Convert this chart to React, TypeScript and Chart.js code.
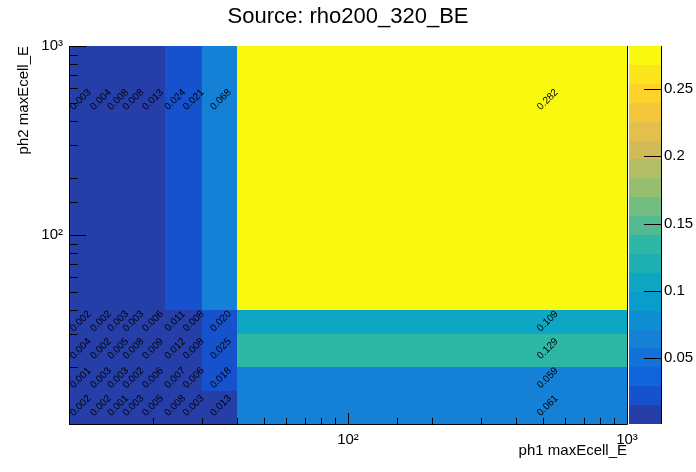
import React, { useEffect, useRef } from 'react';
import { Chart, registerables } from 'chart.js';
Chart.register(...registerables);

const FONT = "'Liberation Sans', Arial, Helvetica, sans-serif";

// bin edges
const xEdges = [10, 12, 14, 16, 18, 22, 26, 30, 40, 1000];
const yEdges = [10, 15, 20, 30, 40, 1000];

// bin contents, one array per y row (bottom to top)
const rowY10to15 = [0.002, 0.002, 0.001, 0.003, 0.005, 0.008, 0.003, 0.013, 0.061];
const rowY15to20 = [0.001, 0.003, 0.003, 0.002, 0.006, 0.007, 0.006, 0.018, 0.059];
const rowY20to30 = [0.004, 0.002, 0.005, 0.008, 0.009, 0.012, 0.008, 0.025, 0.129];
const rowY30to40 = [0.002, 0.002, 0.003, 0.003, 0.006, 0.011, 0.008, 0.020, 0.109];
const rowY40to1000 = [0.003, 0.004, 0.008, 0.008, 0.013, 0.024, 0.021, 0.068, 0.282];

const zMin = 0.001;
const zMax = 0.282;
const nContours = 20;
const zTickLabels = ['0.05', '0.1', '0.15', '0.2', '0.25'];

const titleText = 'Source: rho200_320_BE';
const xTitle = 'ph1 maxEcell_E';
const yTitle = 'ph2 maxEcell_E';

// ROOT kBird palette
const birdStops = [0.0, 0.125, 0.25, 0.375, 0.5, 0.625, 0.75, 0.875, 1.0];
const birdR = [0.2082, 0.0592, 0.078, 0.0232, 0.1802, 0.5301, 0.8186, 0.9956, 0.9764];
const birdG = [0.1664, 0.3599, 0.5041, 0.6419, 0.7178, 0.7492, 0.7328, 0.7862, 0.9832];
const birdB = [0.5293, 0.8684, 0.8385, 0.7914, 0.6425, 0.4662, 0.3499, 0.1968, 0.0539];
const NCOL = 255;

function buildPalette(): string[] {
  const out: string[] = [];
  for (let g = 1; g < birdStops.length; g++) {
    const n = Math.floor(NCOL * birdStops[g]) - Math.floor(NCOL * birdStops[g - 1]);
    for (let c = 0; c < n; c++) {
      const t = c / n;
      const r = birdR[g - 1] + t * (birdR[g] - birdR[g - 1]);
      const gg = birdG[g - 1] + t * (birdG[g] - birdG[g - 1]);
      const b = birdB[g - 1] + t * (birdB[g] - birdB[g - 1]);
      out.push(`rgb(${Math.round(r * 255)},${Math.round(gg * 255)},${Math.round(b * 255)})`);
    }
  }
  return out;
}
const palette = buildPalette();

function levelOf(v: number) {
  let c = Math.floor(0.01 + ((v - zMin) * nContours) / (zMax - zMin));
  if (c < 0) c = 0;
  if (c > nContours - 1) c = nContours - 1;
  return c;
}
function levelColor(c: number) {
  const idx = Math.floor(((c + 0.99) * palette.length) / nContours);
  return palette[Math.min(idx, palette.length - 1)];
}

type Cell = { x: number; y: number; x0: number; x1: number; y0: number; y1: number; v: number };
function buildCells(): Cell[] {
  const rows = [rowY10to15, rowY15to20, rowY20to30, rowY30to40, rowY40to1000];
  const cells: Cell[] = [];
  rows.forEach((row, j) =>
    row.forEach((v, i) =>
      cells.push({
        x0: xEdges[i],
        x1: xEdges[i + 1],
        y0: yEdges[j],
        y1: yEdges[j + 1],
        x: (xEdges[i] + xEdges[i + 1]) / 2,
        y: (yEdges[j] + yEdges[j + 1]) / 2,
        v,
      })
    )
  );
  return cells;
}

const isDecade = (v: number) => Math.abs(Math.log10(v) - Math.round(Math.log10(v))) < 1e-6;
const supers: Record<string, string> = { '1': '¹', '2': '²', '3': '³' };
const decadeLabel = (v: number) => '10' + (supers[String(Math.round(Math.log10(v)))] || '');

const heatPlugin = {
  id: 'heat',
  beforeDatasetsDraw(chart: any) {
    const ctx = chart.ctx;
    const xs = chart.scales.x;
    const ys = chart.scales.y;
    const cells: Cell[] = chart.data.datasets[0].data;
    ctx.save();
    for (const c of cells) {
      const px0 = xs.getPixelForValue(c.x0);
      const px1 = xs.getPixelForValue(c.x1);
      const py0 = ys.getPixelForValue(c.y0);
      const py1 = ys.getPixelForValue(c.y1);
      ctx.fillStyle = levelColor(levelOf(c.v));
      const l = Math.round(px0), r = Math.round(px1), t = Math.round(py1), b = Math.round(py0);
      ctx.fillRect(l, t, r - l, b - t);
    }
    ctx.restore();
  },
  afterDatasetsDraw(chart: any) {
    const ctx = chart.ctx;
    const xs = chart.scales.x;
    const ys = chart.scales.y;
    const zs = chart.scales.z;
    const area = chart.chartArea;
    const cells: Cell[] = chart.data.datasets[0].data;
    ctx.save();
    // cell texts
    ctx.fillStyle = '#000';
    ctx.font = `10px ${FONT}`;
    ctx.textAlign = 'center';
    ctx.textBaseline = 'middle';
    for (const c of cells) {
      const px = xs.getPixelForValue(c.x);
      const py = ys.getPixelForValue(c.y);
      ctx.save();
      ctx.translate(px, py);
      ctx.rotate(-Math.PI / 4);
      ctx.fillText(c.v.toFixed(3), 0, 0);
      ctx.restore();
    }
    // frame lines (left, bottom, right)
    ctx.strokeStyle = '#000';
    ctx.lineWidth = 1;
    ctx.beginPath();
    ctx.moveTo(Math.round(area.left) + 0.5, area.top);
    ctx.lineTo(Math.round(area.left) + 0.5, Math.round(area.bottom) + 0.5);
    ctx.lineTo(Math.round(area.right) + 0.5, Math.round(area.bottom) + 0.5);
    ctx.lineTo(Math.round(area.right) + 0.5, area.top);
    ctx.stroke();
    // x ticks inward
    ctx.beginPath();
    for (const t of xs.ticks) {
      const px = Math.round(xs.getPixelForValue(t.value)) + 0.5;
      const len = isDecade(t.value) ? 11 : 6;
      ctx.moveTo(px, area.bottom);
      ctx.lineTo(px, area.bottom - len);
    }
    // y ticks inward
    for (const t of ys.ticks) {
      const py = Math.round(ys.getPixelForValue(t.value)) + 0.5;
      const len = isDecade(t.value) ? 17 : 8.5;
      ctx.moveTo(area.left, py);
      ctx.lineTo(area.left + len, py);
    }
    ctx.stroke();
    // colour bar
    const cbL = Math.round(zs.left) + 2;
    const cbR = Math.round(zs.left) + 34;
    const dz = (zMax - zMin) / nContours;
    for (let i = 0; i < nContours; i++) {
      const yb = zs.getPixelForValue(zMin + i * dz);
      const yt = zs.getPixelForValue(zMin + (i + 1) * dz);
      ctx.fillStyle = levelColor(i);
      const t = Math.round(yt), b = Math.round(yb);
      ctx.fillRect(cbL, t, cbR - cbL, b - t);
    }
    ctx.beginPath();
    ctx.moveTo(cbR + 0.5, zs.top);
    ctx.lineTo(cbR + 0.5, zs.bottom);
    for (const t of zs.ticks) {
      const py = Math.round(zs.getPixelForValue(t.value)) + 0.5;
      ctx.moveTo(cbR, py);
      ctx.lineTo(cbR - 17, py);
    }
    ctx.stroke();
    ctx.restore();
  },
};

export default function App() {
  const ref = useRef<HTMLCanvasElement>(null);
  useEffect(() => {
    const canvas = ref.current!;
    const chart = new Chart(canvas, {
      type: 'scatter',
      data: {
        datasets: [
          {
            data: buildCells() as any,
            pointRadius: 0,
            pointHoverRadius: 0,
            showLine: false,
          },
        ],
      },
      options: {
        animation: false,
        responsive: false,
        devicePixelRatio: 1,
        events: [],
        layout: { padding: { left: 0, right: 0, top: 0, bottom: 0 } },
        plugins: {
          legend: { display: false },
          tooltip: { enabled: false },
          title: {
            display: true,
            text: titleText,
            color: '#000',
            font: { family: FONT, size: 22, weight: 'normal' as any },
            padding: { top: 4, bottom: 15.6 },
          },
        },
        scales: {
          x: {
            type: 'logarithmic',
            min: 10,
            max: 1000,
            grid: { display: false, drawTicks: false },
            border: { display: false },
            ticks: {
              autoSkip: false,
              maxRotation: 0,
              minRotation: 0,
              padding: 7,
              color: '#000',
              font: { family: FONT, size: 15 },
              callback: (v: any) => (Number(v) > 10 && isDecade(Number(v)) ? decadeLabel(Number(v)) : ''),
            },
            title: {
              display: true,
              text: xTitle,
              align: 'end',
              color: '#000',
              font: { family: FONT, size: 15 },
              padding: { top: 0, bottom: 12 },
            },
            afterFit: (s: any) => {
              s.height = 48;
            },
          },
          y: {
            type: 'logarithmic',
            min: 10,
            max: 1000,
            grid: { display: false, drawTicks: false },
            border: { display: false },
            ticks: {
              autoSkip: false,
              padding: 6,
              color: '#000',
              font: { family: FONT, size: 15 },
              callback: (v: any) => (Number(v) > 10 && isDecade(Number(v)) ? decadeLabel(Number(v)) : ''),
            },
            title: {
              display: true,
              text: yTitle,
              align: 'end',
              color: '#000',
              font: { family: FONT, size: 15 },
              padding: { top: 15, bottom: 0 },
            },
            afterFit: (s: any) => {
              s.width = 69;
            },
          },
          z: {
            type: 'linear',
            position: 'right',
            axis: 'y',
            min: zMin,
            max: zMax,
            grid: { display: false, drawTicks: false },
            border: { display: false },
            ticks: {
              stepSize: 0.05,
              includeBounds: false,
              autoSkip: false,
              padding: 37,
              color: '#000',
              font: { family: FONT, size: 15 },
              callback: (v: any) => {
                const s = String(Math.round(Number(v) * 100) / 100);
                return zTickLabels.includes(s) ? s : '';
              },
            },
            afterFit: (s: any) => {
              s.width = 69;
            },
          },
        } as any,
      },
      plugins: [heatPlugin],
    });
    return () => chart.destroy();
  }, []);
  return (
    <div style={{ position: 'fixed', left: 0, top: 0, width: 696, height: 472, background: '#fff' }}>
      <canvas ref={ref} width={696} height={472} style={{ width: 696, height: 472, display: 'block' }} />
    </div>
  );
}
